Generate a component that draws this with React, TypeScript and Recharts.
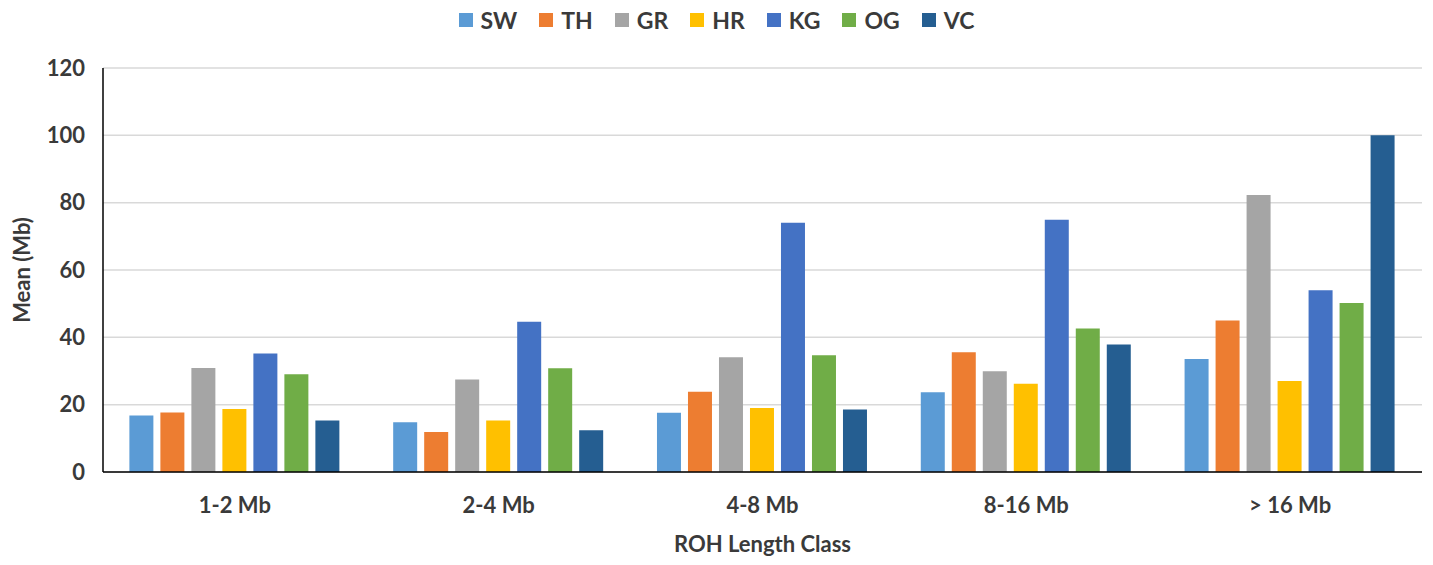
import React from 'react';
import { BarChart, Bar, XAxis, YAxis, CartesianGrid, Legend } from 'recharts';

const classes = ['1-2 Mb', '2-4 Mb', '4-8 Mb', '8-16 Mb', '> 16 Mb'];

const sw = [16.8, 14.8, 17.6, 23.7, 33.6];
const th = [17.7, 11.9, 23.8, 35.6, 45.0];
const gr = [30.9, 27.5, 34.1, 29.9, 82.3];
const hr = [18.7, 15.3, 19.0, 26.2, 27.0];
const kg = [35.2, 44.6, 74.0, 74.9, 54.0];
const og = [29.0, 30.8, 34.7, 42.6, 50.2];
const vc = [15.3, 12.4, 18.6, 37.9, 100.0];

const yTicks = [0, 20, 40, 60, 80, 100, 120];

const series = [
    { key: 'SW', values: sw, color: '#5B9BD5' },
    { key: 'TH', values: th, color: '#ED7D31' },
    { key: 'GR', values: gr, color: '#A5A5A5' },
    { key: 'HR', values: hr, color: '#FFC000' },
    { key: 'KG', values: kg, color: '#4472C4' },
    { key: 'OG', values: og, color: '#70AD47' },
    { key: 'VC', values: vc, color: '#255E91' },
];

const data = classes.map((cls, i) => {
    const row: Record<string, string | number> = { cls };
    series.forEach((s) => {
        row[s.key] = s.values[i];
    });
    return row;
});

const FONT = 'Lato, "Open Sans", sans-serif';
const TEXT = '#3a3a3a';

// legend drawn in series order (recharts would sort it by name)
const renderLegend = () => (
    <div
        style={{
            display: 'flex',
            justifyContent: 'center',
            alignItems: 'center',
            height: 30,
            fontFamily: FONT,
            fontWeight: 700,
            fontSize: 23,
            color: TEXT,
            paddingRight: 12,
        }}
    >
        {series.map((s, i) => (
            <div
                key={s.key}
                style={{ display: 'flex', alignItems: 'center', marginRight: i < series.length - 1 ? 22 : 0 }}
            >
                <span
                    style={{
                        display: 'inline-block',
                        width: 14,
                        height: 14,
                        background: s.color,
                        marginRight: 8,
                    }}
                />
                <span>{s.key}</span>
            </div>
        ))}
    </div>
);

const YTitle = (props: any) => {
    const vb = props.viewBox;
    const x = vb.x - 2;
    const y = vb.y + vb.height / 2;
    return (
        <text
            x={x}
            y={y}
            transform={`rotate(-90 ${x} ${y})`}
            textAnchor="middle"
            dominantBaseline="central"
            fill={TEXT}
            fontFamily={FONT}
            fontWeight={700}
            fontSize={22}
        >
            Mean (Mb)
        </text>
    );
};

const App: React.FC = () => {
    return (
        <div style={{ position: 'absolute', left: 0, top: 0, background: '#fff' }}>
            <BarChart
                width={1433}
                height={565}
                data={data}
                margin={{ top: 38, right: 11, bottom: 0, left: 23 }}
                barCategoryGap="10%"
                barGap={7}
            >
                <CartesianGrid vertical={false} stroke="#d9d9d9" strokeWidth={1.5} />
                <XAxis
                    dataKey="cls"
                    height={93}
                    tickLine={false}
                    tickSize={0}
                    tickMargin={25}
                    axisLine={{ stroke: '#000', strokeWidth: 1.5 }}
                    tick={{ fill: TEXT, fontFamily: FONT, fontWeight: 700, fontSize: 22 }}
                    label={{
                        value: 'ROH Length Class',
                        position: 'insideBottom',
                        offset: 13,
                        fill: TEXT,
                        fontFamily: FONT,
                        fontWeight: 700,
                        fontSize: 22,
                    }}
                />
                <YAxis
                    width={80}
                    domain={[0, 120]}
                    ticks={yTicks}
                    tickLine={false}
                    tickSize={0}
                    tickMargin={18}
                    axisLine={{ stroke: '#000', strokeWidth: 1.5 }}
                    tick={{ fill: TEXT, fontFamily: FONT, fontWeight: 700, fontSize: 22 }}
                    label={{ content: YTitle }}
                />
                <Legend verticalAlign="top" align="center" content={renderLegend} wrapperStyle={{ top: 5 }} />
                {series.map((s) => (
                    <Bar key={s.key} dataKey={s.key} fill={s.color} isAnimationActive={false} />
                ))}
            </BarChart>
        </div>
    );
};

export default App;
